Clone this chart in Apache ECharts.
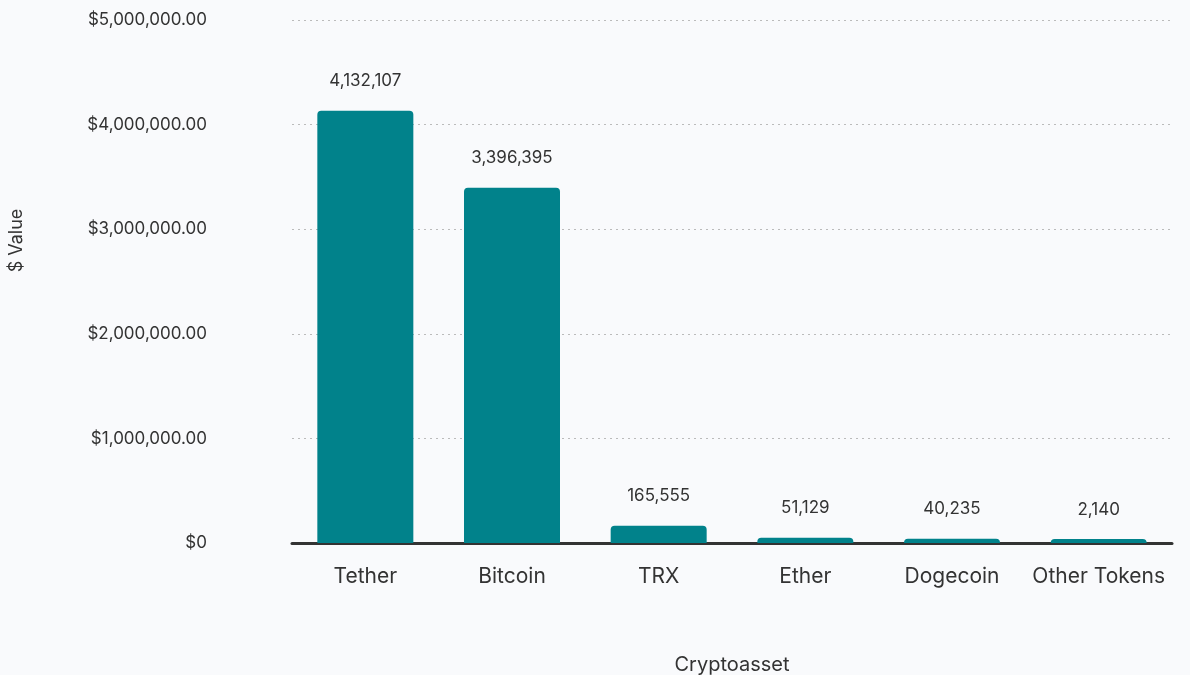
<!DOCTYPE html>
<html>
<head>
<meta charset="utf-8">
<script src="https://cdn.jsdelivr.net/npm/echarts@6/dist/echarts.min.js"></script>
<style>
html,body{margin:0;padding:0;background:#f9fafc;}
#c{width:1190px;height:675px;}
</style>
</head>
<body>
<div id="c"></div>
<script>
const categories = ['Tether', 'Bitcoin', 'TRX', 'Ether', 'Dogecoin', 'Other Tokens'];
const values = [4132107, 3396395, 165555, 51129, 40235, 2140];
const yTicks = [0, 1000000, 2000000, 3000000, 4000000, 5000000];

const chart = echarts.init(document.getElementById('c'));
const fmtNum = v => v.toLocaleString('en-US');
const fmtMoney = v => v === 0 ? '$0' : '$' + v.toLocaleString('en-US', {minimumFractionDigits: 2, maximumFractionDigits: 2});

chart.setOption({
  backgroundColor: '#f9fafc',
  textStyle: { fontFamily: 'Inter' },
  grid: { left: 292, right: 18, top: 20, bottom: 132, outerBoundsMode: 'none', containLabel: false },
  xAxis: {
    type: 'category',
    data: categories,
    name: 'Cryptoasset',
    nameLocation: 'middle',
    nameGap: 112,
    nameTextStyle: { color: '#333', fontSize: 20, fontFamily: 'Inter' },
    axisLine: { lineStyle: { color: '#333', width: 3 } },
    axisTick: { show: false },
    axisLabel: { color: '#333', fontSize: 21, margin: 23, fontFamily: 'Inter', interval: 0 }
  },
  yAxis: {
    type: 'value',
    min: yTicks[0],
    max: yTicks[yTicks.length - 1],
    interval: yTicks[1] - yTicks[0],
    name: '$ Value',
    nameLocation: 'middle',
    nameGap: 266,
    nameRotate: 90,
    nameTextStyle: { color: '#333', fontSize: 18, fontFamily: 'Inter', padding: [0, 0, 0, 82] },
    axisLine: { show: false },
    axisTick: { show: false },
    splitLine: { lineStyle: { color: '#bbbbbb', type: [2, 4], width: 1 } },
    axisLabel: { color: '#333', fontSize: 17, margin: 85, formatter: fmtMoney, fontFamily: 'Inter' }
  },
  series: [{
    type: 'bar',
    data: values,
    barWidth: 96,
    barMinHeight: 4,
    itemStyle: { color: '#01828b', borderRadius: [4, 4, 0, 0] },
    label: {
      show: true,
      position: 'top',
      distance: 21,
      color: '#333',
      fontSize: 17,
      fontFamily: 'Inter',
      formatter: p => fmtNum(p.value)
    }
  }]
});
</script>
</body>
</html>
